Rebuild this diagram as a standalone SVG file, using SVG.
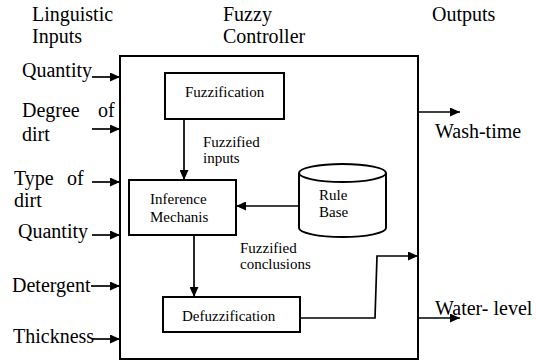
<svg xmlns="http://www.w3.org/2000/svg" width="536" height="362" viewBox="0 0 536 362">
<style>
text{font-family:'Liberation Serif','Times New Roman',Tinos,'DejaVu Serif',serif;fill:#000}
.big{font-size:20px}
.sm{font-size:15px}
.box{fill:#fff;stroke:#000;stroke-width:2}
.ln{fill:none;stroke:#000;stroke-width:1.7}
</style>
<defs>
<marker id="ah" markerUnits="userSpaceOnUse" markerWidth="10" markerHeight="9" refX="10" refY="4.5" orient="auto">
<path d="M0,0 L10,4.5 L0,9 z" fill="#000"/>
</marker>
</defs>
<rect width="536" height="362" fill="#fff"/>
<g id="headers" font-family="Liberation Serif, serif">
<text class="big" x="32" y="21">Linguistic</text>
<text class="big" x="32" y="43">Inputs</text>
<text class="big" x="223" y="21">Fuzzy</text>
<text class="big" x="223" y="43">Controller</text>
<text class="big" x="432" y="21">Outputs</text>
</g>
<g id="controller"><rect class="box" x="120" y="56" width="298" height="303"/></g>
<g id="inputs">
<text class="big" x="22" y="77">Quantity</text>
<text class="big" x="22" y="117">Degree</text><text class="big" x="98" y="117">of</text>
<text class="big" x="22" y="141">dirt</text>
<text class="big" x="14" y="185">Type</text><text class="big" x="67" y="185">of</text>
<text class="big" x="14" y="207">dirt</text>
<text class="big" x="18" y="238">Quantity</text>
<text class="big" x="12" y="292">Detergent</text>
<text class="big" x="13" y="343">Thickness</text>
</g>
<g id="outputs">
<text class="big" x="435" y="138">Wash-time</text>
<text class="big" x="435" y="315">Water- level</text>
</g>
<g id="fuzzification"><rect class="box" x="165" y="73" width="119" height="46"/><text class="sm" x="185" y="97">Fuzzification</text></g>
<g id="inference"><rect class="box" x="129" y="180" width="107" height="55"/><text class="sm" x="150" y="204">Inference</text><text class="sm" x="150" y="222">Mechanis</text></g>
<g id="rulebase">
<path class="box" d="M299,173 L299,228 A43.5,9 0 0 0 386,228 L386,173"/>
<ellipse class="box" cx="342.5" cy="173" rx="43.5" ry="9"/>
<text class="sm" x="319" y="200">Rule</text><text class="sm" x="319" y="217">Base</text>
</g>
<g id="defuzzification"><rect class="box" x="163" y="297" width="137" height="35"/><text class="sm" x="182" y="321">Defuzzification</text></g>
<g id="labels">
<text class="sm" x="203" y="147">Fuzzified</text>
<text class="sm" x="203" y="163">inputs</text>
<text class="sm" x="240" y="253">Fuzzified</text>
<text class="sm" x="240" y="269">conclusions</text>
</g>
<g id="connectors">
<line class="ln" x1="92" y1="77" x2="120" y2="77" marker-end="url(#ah)"/>
<line class="ln" x1="92" y1="129" x2="120" y2="129" marker-end="url(#ah)"/>
<line class="ln" x1="92" y1="182" x2="120" y2="182" marker-end="url(#ah)"/>
<line class="ln" x1="92" y1="235" x2="120" y2="235" marker-end="url(#ah)"/>
<line class="ln" x1="91" y1="286" x2="120" y2="286" marker-end="url(#ah)"/>
<line class="ln" x1="92" y1="339" x2="120" y2="339" marker-end="url(#ah)"/>
<line class="ln" x1="418" y1="112" x2="460" y2="112" marker-end="url(#ah)"/>
<line class="ln" x1="418" y1="318" x2="460" y2="318" marker-end="url(#ah)"/>
<line class="ln" x1="184" y1="119" x2="184" y2="180" marker-end="url(#ah)"/>
<line class="ln" x1="299" y1="206" x2="236" y2="206" marker-end="url(#ah)"/>
<line class="ln" x1="194" y1="235" x2="194" y2="297" marker-end="url(#ah)"/>
<polyline class="ln" points="300,318 375,318 377,256 418,256" marker-end="url(#ah)"/>
</g>
</svg>
